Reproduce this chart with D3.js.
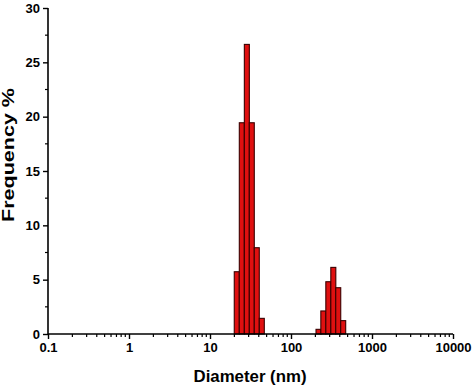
<!DOCTYPE html>
<html><head><meta charset="utf-8">
<script src="https://cdn.jsdelivr.net/npm/d3@7"></script>
<style>body{margin:0;background:#fff}svg{display:block}</style>
</head><body>
<script>
// Bin centers (nm) and frequency (%)
const diameters = [21.4, 24.7, 28.5, 32.8, 37.8, 43.6, 218.6, 250.7, 289, 333, 383, 441];
const frequency = [5.73, 19.44, 26.65, 19.44, 7.94, 1.44, 0.43, 2.12, 4.81, 6.13, 4.26, 1.23];
const xTicks = [0.1, 1, 10, 100, 1000, 10000];
const xTickLabels = ["0.1", "1", "10", "100", "1000", "10000"];
const yTicks = [0, 5, 10, 15, 20, 25, 30];

const W = 474, H = 386;
const svg = d3.select("body").append("svg").attr("width", W).attr("height", H);
const x = d3.scaleLog().domain([0.1, 10000]).range([48, 453]);
const y = d3.scaleLinear().domain([0, 30]).range([334, 8]);
const halfLog = 0.0617 / 2;

svg.append("g").selectAll("rect").data(diameters).join("rect")
  .attr("x", d => x(d / Math.pow(10, halfLog)))
  .attr("width", d => x(d * Math.pow(10, halfLog)) - x(d / Math.pow(10, halfLog)))
  .attr("y", (d, i) => y(frequency[i]))
  .attr("height", (d, i) => y(0) - y(frequency[i]))
  .attr("fill", "#e01010").attr("stroke", "#3a0000").attr("stroke-width", 1.1);

const font = "'Liberation Sans', Arial, sans-serif";
// minor x ticks
const minors = [];
for (let e = -1; e < 4; e++) for (let k = 2; k <= 9; k++) minors.push(k * Math.pow(10, e));
const xAxis = d3.axisBottom(x).tickValues(xTicks).tickFormat((d, i) => xTickLabels[i]).tickSize(5).tickPadding(4);
const gx = svg.append("g").attr("transform", `translate(0,${y(0)})`).call(xAxis);
gx.append("g").selectAll("line").data(minors).join("line")
  .attr("x1", d => x(d)).attr("x2", d => x(d)).attr("y1", 0).attr("y2", 3)
  .attr("stroke", "#000").attr("stroke-width", 1.2);
const gy = svg.append("g").attr("transform", `translate(${x(0.1)},0)`)
  .call(d3.axisLeft(y).tickValues(yTicks).tickSize(5).tickPadding(3));
gy.append("g").selectAll("line").data(d3.range(2.5, 30, 5)).join("line")
  .attr("x1", 0).attr("x2", -3).attr("y1", d => y(d)).attr("y2", d => y(d))
  .attr("stroke", "#000").attr("stroke-width", 1.2);

[gx, gy].forEach(g => {
  g.select(".domain").attr("stroke", "#000").attr("stroke-width", 1.6);
  g.selectAll(".tick line").attr("stroke", "#000").attr("stroke-width", 1.4);
  g.selectAll("text").attr("font-family", font).attr("font-weight", "bold").attr("font-size", 13).attr("fill", "#000");
});
gx.select(".domain").attr("d", `M${x(0.1)},0H${x(10000)}`);
gy.select(".domain").attr("d", `M0,${y(30)}V${y(0)}`);

svg.append("text").attr("x", 250).attr("y", 382).attr("text-anchor", "middle")
  .attr("font-family", font).attr("font-weight", "bold").attr("font-size", 17)
  .attr("textLength", 113).attr("lengthAdjust", "spacingAndGlyphs").text("Diameter (nm)");
svg.append("text").attr("transform", "translate(14,155) rotate(-90)").attr("text-anchor", "middle")
  .attr("font-family", font).attr("font-weight", "bold").attr("font-size", 17)
  .attr("textLength", 134).attr("lengthAdjust", "spacingAndGlyphs").text("Frequency %");
</script>
</body></html>
